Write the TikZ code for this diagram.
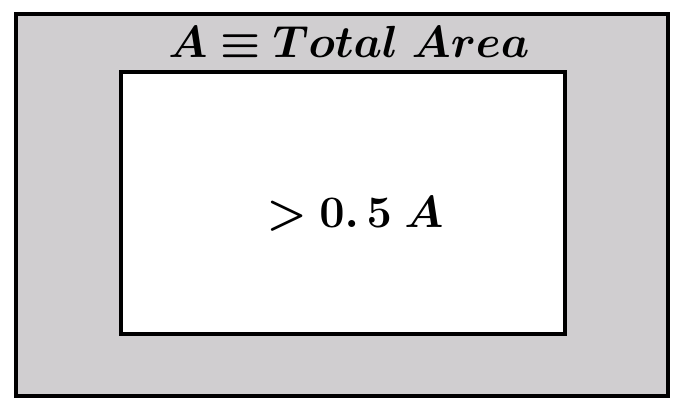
\RequirePackage{fix-cm}
\documentclass[tikz,border=0pt]{standalone}
\usepackage{amsmath}
\usepackage{bm}
\usepackage{tikz}
\usetikzlibrary{positioning}
\definecolor{areagrey}{RGB}{208,206,208}

\begin{document}
\begin{tikzpicture}[
x=0.5pt, y=-0.5pt,
box/.style={
    rectangle,
    draw = black,
    line width = 2pt,
    inner sep = 0pt
    },
label/.style={
    font = \fontsize{22.5}{25}\selectfont
    }
]
\useasboundingbox (0,0) rectangle (685,411);

\node [box, fill = areagrey, minimum width = 326pt, minimum height = 191pt] (total) at (342,205) {};
\node [box, fill = white, minimum width = 222pt, minimum height = 131pt] (part) at (343,203) {};

\node [label] (name) at (349,42) {$\bm{A \equiv Total\ Area}$};
\node [label] (ratio) at (355,214) {$\bm{>0.\,5\;A}$};

\end{tikzpicture}
\end{document}
